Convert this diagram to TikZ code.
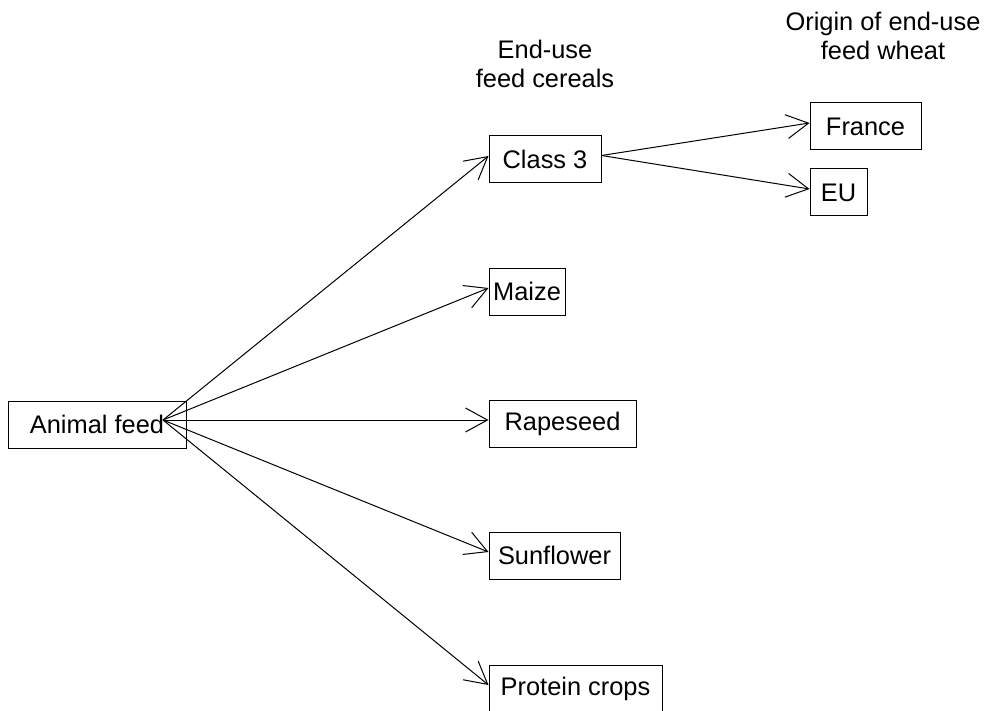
\documentclass[tikz,border=0pt]{standalone}
\usepackage{fontspec}
\setmainfont{Liberation Sans}
\usetikzlibrary{arrows.meta}

\begin{document}
\begin{tikzpicture}[
		x=0.5pt, y=-0.5pt,
		line width=0.5pt,
		every node/.style={rectangle, draw, minimum height=23.5pt, inner sep=0pt, font=\fontsize{12.7}{14.5}\selectfont},
		head/.style={draw=none, minimum height=0pt, align=center},
		flow/.style={-{Straight Barb[length=11pt, width=12pt, line width=0.5pt]}}
	]
  \useasboundingbox (0,0) rectangle (984,711);
  \node (animal_feed) [minimum width=89pt] at (97, 424.5) {Animal feed};
  \coordinate (feed_out) at (163, 420);
  \node (head_cereals) [head] at (545, 64) {End-use\\feed cereals};
  \node (head_wheat) [head] at (883, 36) {Origin of end-use\\feed wheat};
  \node (class_3) [minimum width=56pt] at (545, 159.5) {Class 3};
  \node (maize) [minimum width=38pt] at (527, 291.5) {Maize};
  \node (rapeseed) [minimum width=73.5pt] at (562.5, 423.5) {Rapeseed};
  \node (sunflower) [minimum width=65.5pt] at (554.5, 555.5) {Sunflower};
  \node (protein_crops) [minimum width=86.5pt] at (575.5, 688.5) {Protein crops};
  \node (france) [minimum width=55.5pt] at (865.5, 126.5) {France};
  \node (eu) [minimum width=28.5pt] at (838.5, 192.5) {EU};
  \draw (feed_out) edge [flow] ([yshift=1.75pt]class_3.west);
  \draw (feed_out) edge [flow] ([yshift=1.75pt]maize.west);
  \draw (feed_out) edge [flow] ([yshift=1.75pt]rapeseed.west);
  \draw (feed_out) edge [flow] ([yshift=1.75pt]sunflower.west);
  \draw (feed_out) edge [flow] ([yshift=1.75pt]protein_crops.west);
  \draw ([yshift=2pt]class_3.east) edge [flow] ([yshift=1.75pt]france.west);
  \draw ([yshift=2pt]class_3.east) edge [flow] ([yshift=1.75pt]eu.west);
\end{tikzpicture}
\end{document}
